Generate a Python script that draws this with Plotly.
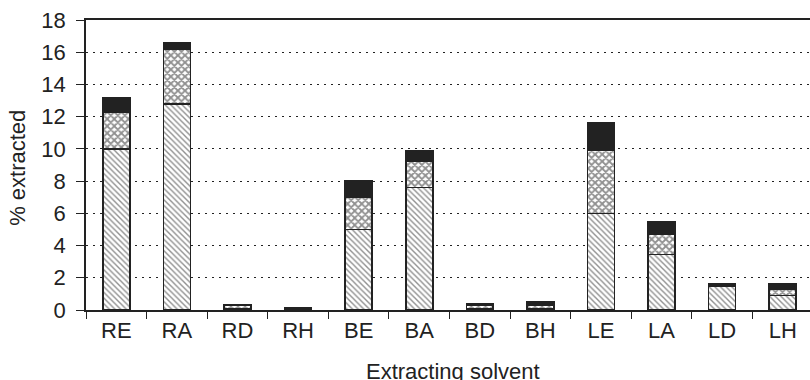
import plotly.graph_objects as go

categories = ["RE", "RA", "RD", "RH", "BE", "BA", "BD", "BH", "LE", "LA", "LD", "LH"]
hatched = [10.0, 12.8, 0.08, 0.0, 5.0, 7.6, 0.05, 0.1, 6.0, 3.45, 1.45, 0.9]
crossed = [2.3, 3.4, 0.2, 0.0, 2.0, 1.65, 0.22, 0.2, 3.9, 1.25, 0.0, 0.4]
black = [0.85, 0.4, 0.02, 0.15, 1.0, 0.65, 0.1, 0.2, 1.7, 0.8, 0.15, 0.3]
y_ticks = [0, 2, 4, 6, 8, 10, 12, 14, 16, 18]

ink = "#222222"
outline = dict(color=ink, width=1.6)

fig = go.Figure()
fig.add_trace(go.Bar(
    x=categories, y=hatched, name="hatched",
    marker=dict(color="white", line=outline,
                pattern=dict(shape="\\", fgcolor=ink, bgcolor="white", size=4, solidity=0.35)),
))
fig.add_trace(go.Bar(
    x=categories, y=crossed, name="crossed",
    marker=dict(color="white", line=outline,
                pattern=dict(shape="x", fgcolor=ink, bgcolor="white", size=5, solidity=0.6)),
))
fig.add_trace(go.Bar(
    x=categories, y=black, name="black",
    marker=dict(color=ink, line=outline),
))

font = dict(family="Liberation Sans, Arial, sans-serif", size=22, color=ink)

fig.update_layout(
    barmode="stack",
    bargap=0.555,
    width=810, height=380,
    margin=dict(l=86, r=0, t=20, b=70),
    paper_bgcolor="white", plot_bgcolor="white",
    showlegend=False,
    font=font,
    annotations=[
        dict(text="% extracted", xref="paper", yref="paper", x=-0.094, y=0.49,
             xanchor="center", yanchor="middle", textangle=-90, showarrow=False, font=font),
        dict(text="Extracting solvent", xref="paper", yref="paper", x=0.507, y=-0.212,
             xanchor="center", yanchor="middle", showarrow=False, font=font),
    ],
)
fig.update_xaxes(
    range=[-0.5, 11.45], automargin=False,
    showline=True, linecolor=ink, linewidth=1.5, mirror=True,
    ticks="outside", tickson="boundaries", ticklen=7, tickcolor=ink, tickwidth=1,
    showgrid=False,
    tickfont=font,
)
fig.update_yaxes(
    range=[0, 18], tickvals=y_ticks, automargin=False,
    showline=True, linecolor=ink, linewidth=1.5,
    ticks="outside", ticklen=8, tickcolor=ink, tickwidth=1,
    ticklabelstandoff=6,
    showgrid=True, gridcolor=ink, gridwidth=1, griddash="1.5px,5.5px",
    zeroline=False,
    tickfont=font,
)

fig.write_html("out.html", config={"displayModeBar": False},
               post_script="document.body.style.margin='0px';")
